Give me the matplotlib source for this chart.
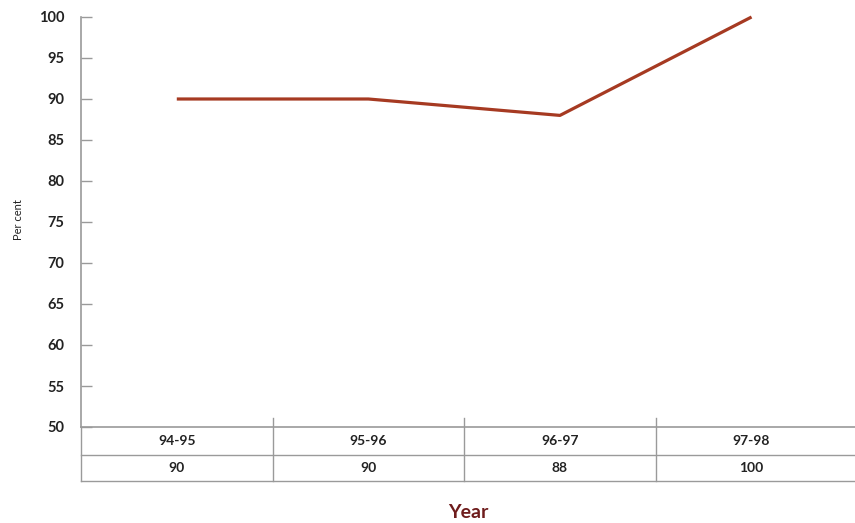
import matplotlib.pyplot as plt
from matplotlib.transforms import blended_transform_factory

years = ["94-95", "95-96", "96-97", "97-98"]
per_cent = [90, 90, 88, 100]
y_ticks = [50, 55, 60, 65, 70, 75, 80, 85, 90, 95, 100]

grey = "#9a9a9a"
line_red = "#a63a22"
title_red = "#6e1c1c"

plt.rcParams["font.family"] = ["Lato", "DejaVu Sans"]

fig = plt.figure(figsize=[8.55, 5.23], dpi=100)
ax = fig.add_axes([81 / 855, 1 - 427 / 523, 774 / 855, 410 / 523])

xs = [i + 0.5 for i in range(len(years))]
x_end = len(years) + 0.04
ax.plot(xs, per_cent, color=line_red, lw=2.3, clip_on=False, solid_capstyle="butt")

ax.set_xlim(0, x_end)
ax.set_ylim(50, 100)
ax.set_yticks(y_ticks)
ax.set_yticklabels([str(v) for v in y_ticks], fontweight="bold", fontsize=10.5, color="#222222")
ax.tick_params(axis="y", direction="in", length=8, width=1, color=grey, pad=12)
ax.set_xticks([])
for s in ["top", "right"]:
    ax.spines[s].set_visible(False)
ax.spines["left"].set_color(grey)
ax.spines["bottom"].set_color(grey)
ax.spines["left"].set_linewidth(1.2)
ax.spines["bottom"].set_linewidth(1.2)

# value table under the x axis
tr = blended_transform_factory(ax.transData, ax.transAxes)
row1 = -28 / 410
row2 = -54 / 410
for yy in [row1, row2]:
    ax.plot([0, x_end], [yy, yy], color=grey, lw=1, transform=tr, clip_on=False)
ax.plot([0, 0], [0, row2], color=grey, lw=1, transform=tr, clip_on=False)
for i in range(1, len(years)):
    ax.plot([i, i], [0.022, row2], color=grey, lw=1, transform=tr, clip_on=False)
for x, yr, v in zip(xs, years, per_cent):
    ax.text(x, row1 / 2, yr, ha="center", va="center", fontsize=10, fontweight="bold",
            color="#222222", transform=tr)
    ax.text(x, (row1 + row2) / 2, str(v), ha="center", va="center", fontsize=10,
            fontweight="bold", color="#222222", transform=tr)

fig.text(18 / 855, 1 - 220 / 523, "Per cent", rotation=90, ha="center", va="center",
         fontsize=8, color="#222222")
fig.text(468 / 855, 1 - 512 / 523, "Year", ha="center", va="center", fontsize=14,
         fontweight="bold", color=title_red)

fig.savefig("out.png", dpi=100)
